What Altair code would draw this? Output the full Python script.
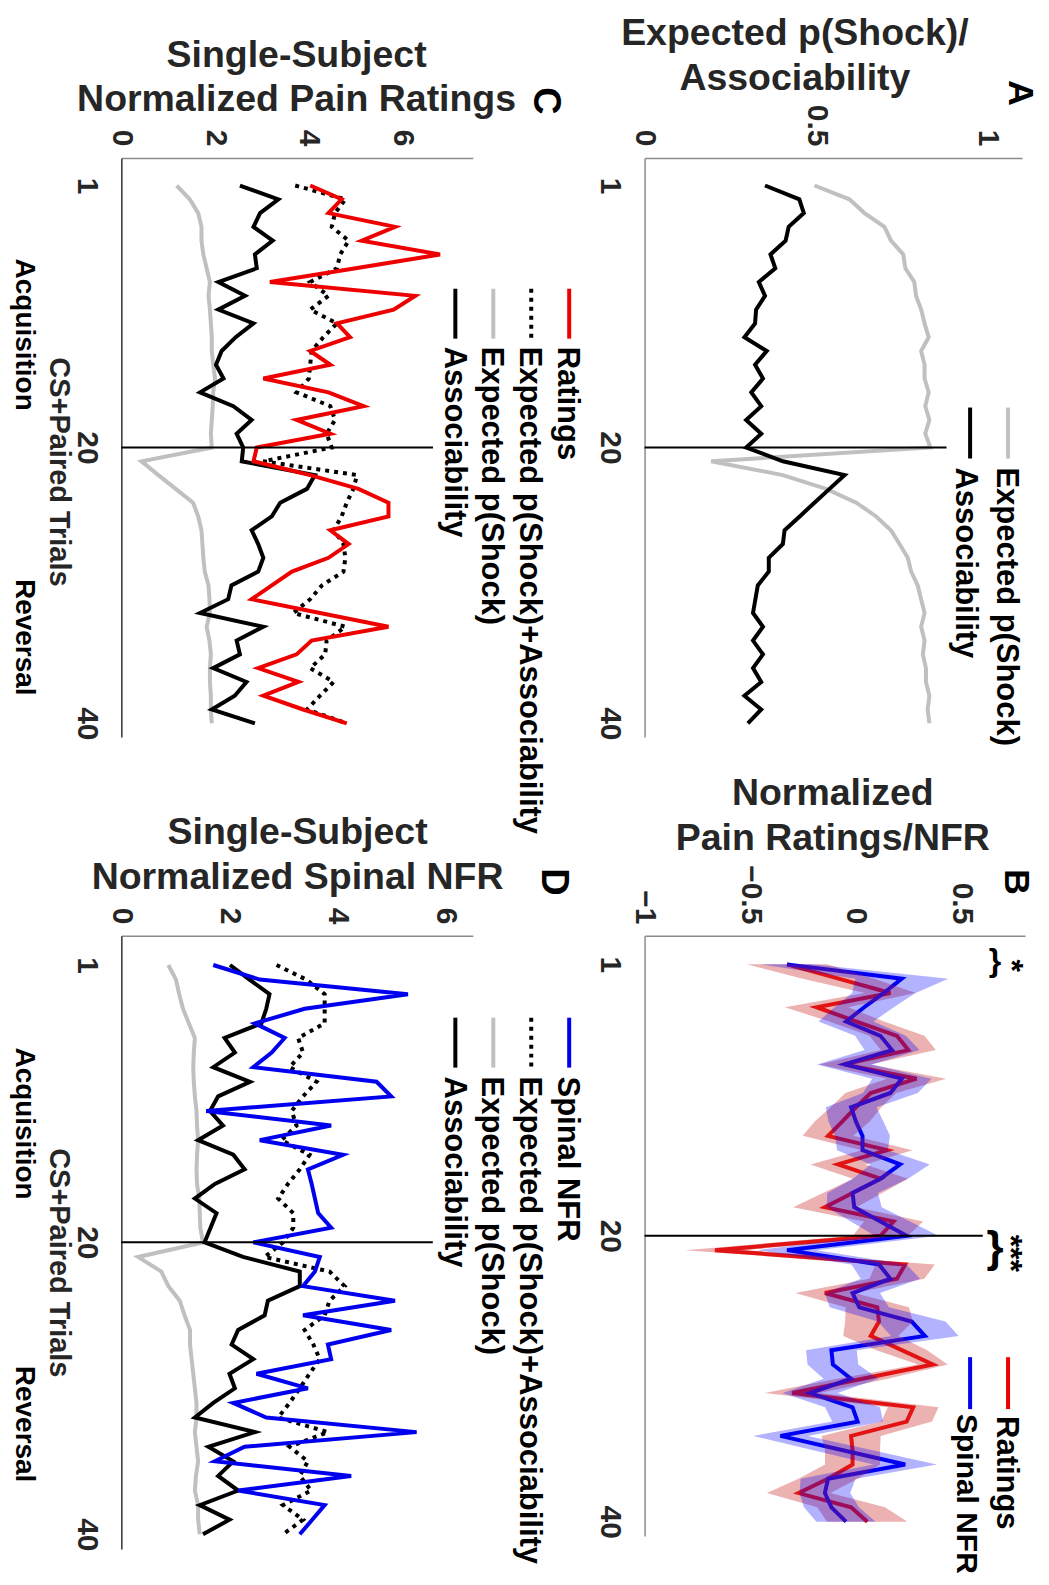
import altair as alt
import pandas as pd

trials = list(range(1, 41))

# ---------------- Panel A: model quantities ----------------
a_expected = [0.495, 0.597, 0.641, 0.699, 0.718, 0.754, 0.760, 0.786, 0.791, 0.806,
              0.816, 0.828, 0.806, 0.816, 0.816, 0.828, 0.818, 0.830, 0.818, 0.833,
              0.194, 0.403, 0.529, 0.617, 0.675, 0.718, 0.743, 0.767, 0.777, 0.796,
              0.806, 0.816, 0.806, 0.816, 0.811, 0.820, 0.820, 0.830, 0.825, 0.830]
a_assoc = [0.351, 0.451, 0.464, 0.420, 0.411, 0.367, 0.381, 0.333, 0.351, 0.325,
           0.322, 0.291, 0.356, 0.322, 0.345, 0.311, 0.340, 0.296, 0.340, 0.296,
           0.403, 0.583, 0.539, 0.495, 0.452, 0.408, 0.403, 0.362, 0.362, 0.330,
           0.323, 0.316, 0.345, 0.316, 0.345, 0.316, 0.340, 0.291, 0.340, 0.301]

# ---------------- Panel B: group means and SEM ----------------
b_ratings = [-0.326, -0.082, 0.163, -0.186, 0.003, 0.194, 0.248, -0.054, 0.287, 0.070,
             0.000, -0.065, -0.132, 0.147, -0.085, 0.116, -0.016, -0.147, 0.178, 0.116,
             -0.667, 0.233, 0.194, -0.147, 0.101, 0.109, 0.070, 0.217, 0.364, 0.031,
             -0.302, 0.271, 0.240, -0.023, -0.016, -0.016, -0.132, -0.271, -0.023, 0.054]
b_ratings_sem = [0.19, 0.17, 0.12, 0.15, 0.13, 0.13, 0.13, 0.12, 0.14, 0.12,
                 0.12, 0.13, 0.12, 0.12, 0.13, 0.13, 0.14, 0.15, 0.14, 0.13,
                 0.14, 0.14, 0.13, 0.14, 0.15, 0.16, 0.13, 0.12, 0.07, 0.12,
                 0.13, 0.12, 0.12, 0.14, 0.13, 0.13, 0.14, 0.15, 0.16, 0.19]
b_nfr = [-0.326, 0.217, 0.132, 0.039, -0.047, 0.116, 0.171, -0.054, 0.217, 0.163,
         -0.023, 0.000, 0.031, 0.031, 0.209, 0.116, -0.016, -0.008, 0.116, 0.240,
         -0.326, 0.109, 0.163, -0.016, 0.016, 0.264, 0.326, -0.116, -0.109, -0.023,
         -0.217, -0.016, 0.008, -0.357, -0.062, 0.233, -0.132, -0.147, -0.116, -0.047]
b_nfr_sem = [0.12, 0.22, 0.15, 0.14, 0.13, 0.12, 0.13, 0.13, 0.14, 0.13,
             0.12, 0.13, 0.13, 0.12, 0.14, 0.13, 0.12, 0.13, 0.14, 0.15,
             0.14, 0.13, 0.14, 0.13, 0.14, 0.16, 0.16, 0.12, 0.12, 0.13,
             0.13, 0.13, 0.12, 0.13, 0.14, 0.15, 0.13, 0.12, 0.13, 0.14]

# ---------------- Panel C: single subject, pain ratings ----------------
c_ratings = [4.03, 4.70, 4.42, 5.84, 5.13, 6.80, 5.00, 3.17, 6.27, 5.81,
             4.60, 4.88, 4.03, 4.46, 3.03, 4.42, 5.17, 3.74, 4.46, 2.89,
             2.82, 4.03, 5.06, 5.70, 5.70, 4.46, 4.85, 4.42, 3.64, 3.21,
             2.78, 4.24, 5.70, 4.06, 3.74, 2.92, 3.78, 3.03, 3.88, 4.81]
c_combined = [3.71, 4.78, 4.56, 4.49, 4.85, 4.67, 4.60, 4.03, 4.42, 4.03,
              4.60, 4.31, 4.06, 4.03, 4.00, 3.74, 4.46, 4.56, 4.38, 4.49,
              3.03, 5.03, 4.95, 4.81, 4.70, 4.53, 4.74, 4.78, 4.74, 4.28,
              4.03, 3.67, 4.78, 4.38, 4.35, 4.03, 4.53, 4.24, 3.96, 4.81]
c_expected = [1.18, 1.46, 1.64, 1.71, 1.71, 1.75, 1.82, 1.89, 1.86, 1.89,
              1.91, 1.93, 1.93, 1.96, 2.00, 1.96, 1.95, 1.93, 1.91, 1.93,
              0.43, 0.79, 1.16, 1.53, 1.64, 1.71, 1.73, 1.75, 1.78, 1.86,
              1.88, 1.89, 1.82, 1.88, 1.91, 1.89, 1.89, 1.91, 1.91, 1.93]
c_assoc = [2.53, 3.35, 2.96, 2.82, 3.23, 2.85, 2.89, 2.07, 2.64, 2.07,
           2.82, 2.44, 2.14, 2.02, 2.18, 1.68, 2.39, 2.78, 2.46, 2.60,
           2.57, 4.13, 3.96, 3.39, 3.21, 2.78, 2.92, 3.03, 2.92, 2.35,
           2.28, 1.68, 3.03, 2.46, 2.53, 1.96, 2.67, 2.42, 1.93, 2.85]

# ---------------- Panel D: single subject, spinal NFR ----------------
d_nfr = [1.70, 2.56, 5.30, 3.39, 2.47, 3.02, 2.78, 2.44, 4.72, 4.99,
         1.57, 3.88, 2.56, 4.10, 3.45, 3.52, 3.58, 3.64, 3.88, 2.44,
         3.67, 3.58, 3.36, 5.06, 3.36, 4.99, 3.82, 3.88, 2.50, 3.45,
         2.07, 2.68, 5.46, 2.28, 1.73, 4.25, 2.16, 3.76, 3.53, 3.30]
d_combined = [2.87, 3.42, 3.76, 3.76, 3.76, 3.27, 3.36, 3.11, 3.61, 3.36,
              3.15, 3.24, 2.96, 3.48, 3.30, 3.08, 2.90, 3.18, 3.18, 2.99,
              2.65, 3.85, 4.13, 3.85, 3.76, 3.39, 3.55, 3.67, 3.48, 3.30,
              3.11, 2.90, 3.82, 3.11, 3.45, 3.30, 3.51, 2.99, 3.36, 2.99]
d_expected = [0.87, 1.01, 1.07, 1.14, 1.25, 1.36, 1.34, 1.33, 1.34, 1.36,
              1.39, 1.40, 1.42, 1.40, 1.39, 1.40, 1.44, 1.45, 1.46, 1.51,
              0.31, 0.74, 0.87, 1.08, 1.17, 1.27, 1.27, 1.30, 1.33, 1.36,
              1.39, 1.39, 1.36, 1.39, 1.42, 1.38, 1.36, 1.42, 1.42, 1.45]
d_assoc = [2.01, 2.37, 2.74, 2.68, 2.59, 1.91, 2.10, 1.70, 2.38, 1.79,
           1.64, 1.88, 1.42, 2.07, 2.28, 1.73, 1.36, 1.76, 1.65, 1.54,
           2.25, 3.30, 3.30, 2.71, 2.65, 2.16, 2.04, 2.44, 2.00, 2.10,
           1.70, 1.36, 2.47, 1.61, 2.07, 1.79, 2.16, 1.45, 2.00, 1.51]

FONT = "Liberation Sans"
INK = "#262626"
RED = "#ee0000"
BLUE = "#0000ee"
GRAY = "#c0c0c0"
BLACK = "#000000"
LW = 4
LEG = 31

one = pd.DataFrame({"k": [0]})
trial_scale = alt.Scale(domain=[-1, 41], reverse=True, nice=False, zero=False)


def value_axis(values, title, tx, ty, domain_color="#8c8c8c"):
    return alt.Axis(orient="top", values=values, format="~g", labelAngle=90,
                    labelAlign="right", labelBaseline="middle", labelPadding=12,
                    labelFont=FONT, labelFontSize=30, labelFontWeight="bold",
                    labelColor=INK, labelFlush=False, labelOverlap=False,
                    ticks=False, grid=False, domainColor=domain_color, domainWidth=1.5,
                    title=title, titleFont=FONT, titleFontSize=37.5,
                    titleFontWeight="bold", titleColor=INK, titleAngle=0,
                    titleAlign="center", titleBaseline="alphabetic",
                    titleX=tx, titleY=ty, titleLineHeight=45)


def trial_axis(title="", ty=0, domain_color="#8c8c8c"):
    kw = dict(orient="left", values=[1, 20, 40], labelAngle=90, labelAlign="center",
              labelBaseline="top", labelPadding=20, labelFont=FONT, labelFontSize=30,
              labelFontWeight="bold", labelColor=INK, labelFlush=False,
              labelOverlap=False, ticks=False, grid=False,
              domainColor=domain_color, domainWidth=1.5, title=title)
    if title:
        kw.update(titleAngle=90, titleX=-63, titleY=ty, titleAlign="center",
                  titleBaseline="middle", titleFont=FONT, titleFontSize=29,
                  titleFontWeight="bold", titleColor=INK)
    return alt.Axis(**kw)


def line(df, field, color, xs, xa, ya, dash=None, width=LW):
    kw = dict(color=color, strokeWidth=width)
    if dash:
        kw["strokeDash"] = dash
    return alt.Chart(df).mark_line(**kw).encode(
        x=alt.X(field + ":Q", scale=xs, axis=xa),
        y=alt.Y("trial:Q", scale=trial_scale, axis=ya),
        order="trial:Q")


def band(df, lo, hi, color, opacity, xs, xa, ya):
    return alt.Chart(df).mark_area(orient="horizontal", color=color,
                                   fillOpacity=opacity).encode(
        y=alt.Y("trial:Q", scale=trial_scale, axis=ya),
        x=alt.X(lo + ":Q", scale=xs, axis=xa),
        x2=alt.X2(hi + ":Q"))


def split_rule(x0, x1, xs, xa, ya):
    df = pd.DataFrame({"trial": [20], "x0": [x0], "x1": [x1]})
    return alt.Chart(df).mark_rule(color=BLACK, strokeWidth=2).encode(
        x=alt.X("x0:Q", scale=xs, axis=xa), x2="x1:Q",
        y=alt.Y("trial:Q", scale=trial_scale, axis=ya))


def txt(s, x, y, size=LEG, angle=90, align="left", baseline="middle", color=BLACK, weight="bold"):
    return alt.Chart(one).mark_text(text=s, angle=angle, align=align, baseline=baseline,
                                    font=FONT, fontSize=size, fontWeight=weight,
                                    color=color).encode(x=alt.value(x), y=alt.value(y))


def sample(x, y0, y1, color, dash=None):
    kw = dict(color=color, strokeWidth=LW)
    if dash:
        kw["strokeDash"] = dash
    return alt.Chart(one).mark_rule(**kw).encode(x=alt.value(x), y=alt.value(y0),
                                                 y2=alt.value(y1))


DOT = [4, 5]

# ---------------- Panel A ----------------
dfA = pd.DataFrame({"trial": trials, "expected": a_expected, "assoc": a_assoc})
xsA = alt.Scale(domain=[0, 1.1], nice=False, zero=False)
xaA = value_axis([0, 0.5, 1], ["Expected p(Shock)/", "Associability"], 150, -114)
yaA = trial_axis()
panelA = alt.layer(
    line(dfA, "expected", GRAY, xsA, xaA, yaA),
    line(dfA, "assoc", BLACK, xsA, xaA, yaA),
    split_rule(0, 0.88, xsA, xaA, yaA),
    sample(364, 250, 301, GRAY),
    sample(326, 250, 301, BLACK),
    txt("Expected p(Shock)", 362, 310),
    txt("Associability", 321, 310),
    txt("A", 376, -65, size=36, align="center"),
).properties(width=378, height=580)

# ---------------- Panel B ----------------
dfB = pd.DataFrame({"trial": trials, "ratings": b_ratings, "nfr": b_nfr})
dfB["r_lo"] = [m - s for m, s in zip(b_ratings, b_ratings_sem)]
dfB["r_hi"] = [m + s for m, s in zip(b_ratings, b_ratings_sem)]
dfB["n_lo"] = [m - s for m, s in zip(b_nfr, b_nfr_sem)]
dfB["n_hi"] = [m + s for m, s in zip(b_nfr, b_nfr_sem)]
xsB = alt.Scale(domain=[-1, 0.8], nice=False, zero=False)
xaB = value_axis([-1, -0.5, 0, 0.5], ["Normalized", "Pain Ratings/NFR"], 188, -131)
yaB = trial_axis()
panelB = alt.layer(
    line(dfB, "ratings", RED, xsB, xaB, yaB),
    line(dfB, "nfr", BLUE, xsB, xaB, yaB),
    band(dfB, "r_lo", "r_hi", "#cc3333", 0.38, xsB, xaB, yaB),
    band(dfB, "n_lo", "n_hi", "#0000ff", 0.30, xsB, xaB, yaB),
    split_rule(-1, 0.6, xsB, xaB, yaB),
    txt("}", 351, 25, size=32, angle=0, align="center"),
    txt("*", 367, 30, size=32, angle=90, align="center"),
    txt("}", 351, 314, size=44, angle=0, align="center"),
    txt("***", 366, 318, size=32, angle=90, align="center"),
    sample(364, 422, 474, RED),
    sample(326, 422, 474, BLUE),
    txt("Ratings", 362, 481),
    txt("Spinal NFR", 322, 479, size=30),
    txt("B", 372, -54, size=36, align="center"),
).properties(width=381, height=601)

# ---------------- Panel C ----------------
dfC = pd.DataFrame({"trial": trials, "ratings": c_ratings, "combined": c_combined,
                    "expected": c_expected, "assoc": c_assoc})
xsC = alt.Scale(domain=[0, 7.5], nice=False, zero=False)
xaC = value_axis([0, 2, 4, 6], ["Single-Subject", "Normalized Pain Ratings"], 175, -92)
yaC = trial_axis("CS+Paired Trials", 314, domain_color="#333333")
panelC = alt.layer(
    line(dfC, "expected", GRAY, xsC, xaC, yaC),
    line(dfC, "assoc", BLACK, xsC, xaC, yaC),
    line(dfC, "combined", BLACK, xsC, xaC, yaC, dash=DOT),
    line(dfC, "ratings", RED, xsC, xaC, yaC),
    split_rule(0, 6.65, xsC, xaC, yaC),
    sample(448.5, 131, 181, RED),
    sample(410.5, 131, 181, BLACK, dash=DOT),
    sample(372.5, 131, 181, GRAY),
    sample(334.5, 131, 181, BLACK),
    txt("Ratings", 446.5, 189),
    txt("Expected p(Shock)+Associability", 408.5, 189),
    txt("Expected p(Shock)", 370.5, 189),
    txt("Associability", 333, 189),
    txt("Acquisition", -97, 177, size=28, align="center"),
    txt("Reversal", -97, 480, size=28, align="center"),
    txt("C", 424.5, -57, size=38, align="center"),
).properties(width=352, height=580)

# ---------------- Panel D ----------------
dfD = pd.DataFrame({"trial": trials, "nfr": d_nfr, "combined": d_combined,
                    "expected": d_expected, "assoc": d_assoc})
xsD = alt.Scale(domain=[0, 6.5], nice=False, zero=False)
xaD = value_axis([0, 2, 4, 6], ["Single-Subject", "Normalized Spinal NFR"], 176, -92)
yaD = trial_axis("CS+Paired Trials", 327, domain_color="#333333")
panelD = alt.layer(
    line(dfD, "expected", GRAY, xsD, xaD, yaD),
    line(dfD, "assoc", BLACK, xsD, xaD, yaD),
    line(dfD, "combined", BLACK, xsD, xaD, yaD, dash=DOT),
    line(dfD, "nfr", BLUE, xsD, xaD, yaD),
    split_rule(0, 5.76, xsD, xaD, yaD),
    sample(448.5, 82, 132, BLUE),
    sample(410.5, 82, 132, BLACK, dash=DOT),
    sample(372.5, 82, 132, GRAY),
    sample(334.5, 82, 132, BLACK),
    txt("Spinal NFR", 446.5, 141),
    txt("Expected p(Shock)+Associability", 408.5, 141),
    txt("Expected p(Shock)", 370.5, 141),
    txt("Associability", 333, 141),
    txt("Acquisition", -97, 188, size=28, align="center"),
    txt("Reversal", -97, 489, size=28, align="center"),
    txt("D", 432.5, -54, size=38, align="center"),
).properties(width=352, height=614)

chart = alt.concat(panelC, panelA, panelD, panelB, columns=2).properties(
    spacing={"row": 199, "column": 172},
    bounds="flush",
    autosize=alt.AutoSizeParams(type="none"),
    padding={"left": 113.5, "top": 149, "right": 921, "bottom": 1426},
).configure_view(stroke=None)

chart.save("out.html", embed_options={"renderer": "svg", "actions": False})
